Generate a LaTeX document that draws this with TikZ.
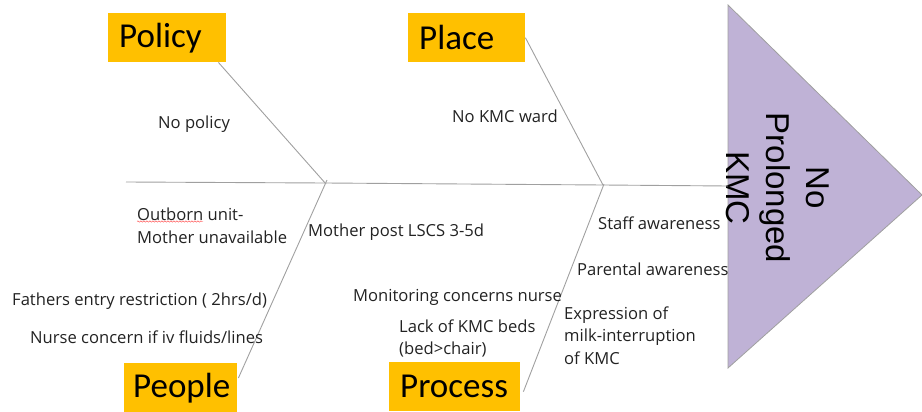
\documentclass[tikz,border=0pt]{standalone}
\usepackage{fontspec}
\setmainfont{Carlito}
\newfontfamily\arialf{Liberation Sans}
\newfontfamily\causef{Open Sans}
\usetikzlibrary{calc,decorations.pathmorphing}
\definecolor{boxor}{HTML}{FFC000}
\definecolor{lav}{HTML}{BFB2D6}
\definecolor{bone}{HTML}{A0A0A0}
\definecolor{txt}{HTML}{222222}
\begin{document}
\begin{tikzpicture}[x=1pt,y=-1pt,
  cat/.style={fill=boxor, anchor=north west, minimum height=49pt, inner ysep=0pt,
    inner xsep=11pt, text width=#1, align=left, text=black,
    font=\fontsize{35}{40}\selectfont},
  bone/.style={draw=bone, line width=0.9pt},
  cause/.style={anchor=west, inner sep=0pt, text=txt, align=left,
    font=\causef\fontsize{16.6}{22.5}\selectfont},
  head/.style={fill=lav, draw=bone, line width=0.8pt}
]
\useasboundingbox (0,0) rectangle (922,412);

% head triangle
\draw[head] (728,5) -- (922,195) -- (728,368) -- cycle;
\node[rotate=-90, align=center, inner sep=0pt, text=black,
  font=\arialf\fontsize{33}{40}\selectfont] (effect) at (778,188) {No\\Prolonged\\KMC};

% category boxes
\node[cat=96pt]  (policy)  at (108,13)  {Policy};
\node[cat=95pt]  (place)   at (408,13)  {Place};
\node[cat=95pt, inner xsep=9pt]  (people)  at (124,363) {People};
\node[cat=109pt] (process) at (389,362) {Process};

% spine and junctions
\coordinate (tail) at (126,182);
\coordinate (j1) at (325,183);
\coordinate (j2) at (603,185);
\coordinate (hd) at (728,186);
\draw[bone] (tail) -- (j1) -- (j2) -- (hd);

% ribs
\draw[bone] ($(policy.south east)+(-8,0)$) -- ($(j1)+(1,1)$);
\draw[bone] (place.east) -- (j2);
\draw[bone] ($(people.north east)+(1,15)$) -- ($(j1)+(2,-3)$);
\draw[bone] ($(process.east)+(3,5)$) -- ($(j2)+(1,-1)$);

% causes
\node[cause] (c1) at (158,124) {No policy};
\node[cause] (c2) at (452,116) {No KMC ward};
\node[cause] (c3) at (137,226) {Outborn unit-\\Mother unavailable};
\node[cause] (c4) at (308,232) {Mother post LSCS 3-5d};
\node[cause] (c5) at (12,301) {Fathers entry restriction ( 2hrs/d)};
\node[cause] (c6) at (30,337) {Nurse concern if iv fluids/lines};
\node[cause] (c7) at (353,297) {Monitoring concerns nurse};
\node[cause] (c8) at (399,338.5) {Lack of KMC beds\\(bed>chair)};
\node[cause] (c9) at (598,223) {Staff awareness};
\node[cause] (c10) at (577,269) {Parental awareness};
\node[cause] (c11) at (564,335.5) {Expression of\\milk-interruption\\of KMC};

% spell-check squiggle
\draw[red!80, line width=0.4pt, decorate,
  decoration={snake, amplitude=0.7pt, segment length=3pt}] (137,221.5) -- (203,221.5);
\end{tikzpicture}
\end{document}
